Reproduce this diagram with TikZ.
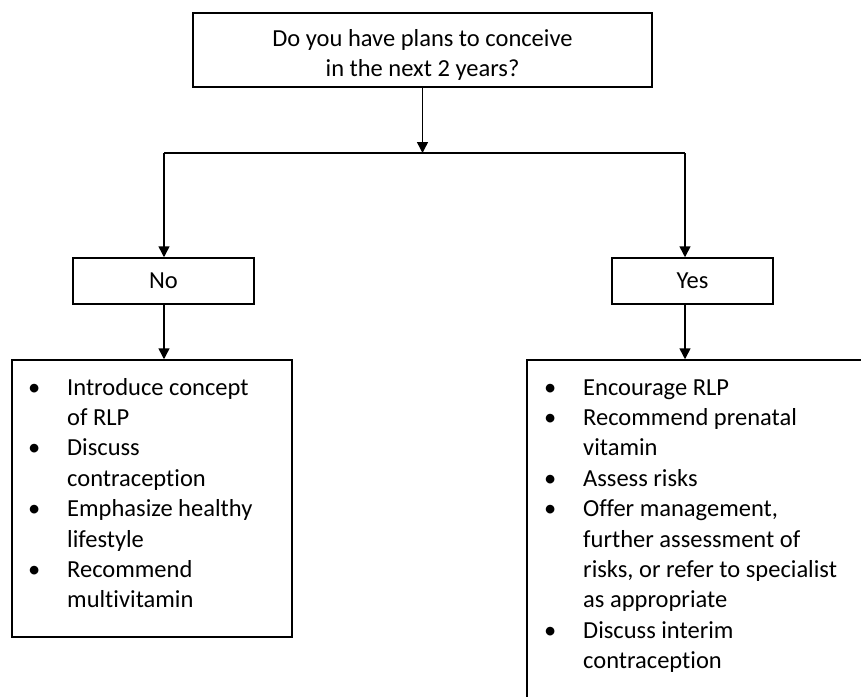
\documentclass[tikz,border=0pt]{standalone}
\usepackage{fontspec}
\setmainfont{Carlito}[Ligatures={NoCommon,NoContextual}]
\usetikzlibrary{arrows.meta}
\begin{document}
\begin{tikzpicture}[x=1pt,y=-1pt,
  box/.style={draw,line width=1.5pt,inner sep=0pt,font=\fontsize{24.5}{30.4}\selectfont},
  arr/.style={line width=1.5pt,-{Triangle[width=11pt,length=11pt]}},
  txt/.style={inner sep=0pt,font=\fontsize{24.5}{30.4}\selectfont}]
\useasboundingbox (0,0) rectangle (861,696);
\clip (0,0) rectangle (861,696);
% question box
\node[box,minimum width=459pt,minimum height=74pt] (q) at (422.5,50) {};
\node[txt,align=center] (qt) at (422.5,55)
  {Do you have plans to conceive\\in the next 2 years?};
\coordinate (hl) at (164,153);
\coordinate (hr) at (685,153);
\coordinate (hm) at (422.5,153);
\draw[arr] (q.south) -- (hm);
\draw[line width=1.5pt] (hl) -- (hr);
% answer boxes
\node[box,minimum width=181pt,minimum height=46pt] (no) at (163.5,281) {No};
\node[box,minimum width=161pt,minimum height=46pt] (yes) at (692.5,281) {Yes};
\draw[arr] (hl) -- (hl |- no.north);
\draw[arr] (hr) -- (hr |- yes.north);
% list boxes
\node[box,minimum width=280pt,minimum height=277pt] (nl) at (152,498.5) {};
\node[box,minimum width=380pt,minimum height=380pt] (yl) at (717,550) {};
\draw[arr] (hl |- no.south) -- (hl |- nl.north);
\draw[arr] (hr |- yes.south) -- (hr |- yl.north);
% list texts
\node[txt,anchor=base west] (nt) at (28,395) {%
\begin{tabular}[t]{@{}l@{}}
\makebox[39pt][l]{•}Introduce concept\\
\hspace*{39pt}of RLP\\
\makebox[39pt][l]{•}Discuss\\
\hspace*{39pt}contraception\\
\makebox[39pt][l]{•}Emphasize healthy\\
\hspace*{39pt}lifestyle\\
\makebox[39pt][l]{•}Recommend\\
\hspace*{39pt}multivitamin
\end{tabular}};
\node[txt,anchor=base west] (yt) at (544,395) {%
\begin{tabular}[t]{@{}l@{}}
\makebox[39pt][l]{•}Encourage RLP\\
\makebox[39pt][l]{•}Recommend prenatal\\
\hspace*{39pt}vitamin\\
\makebox[39pt][l]{•}Assess risks\\
\makebox[39pt][l]{•}Offer management,\\
\hspace*{39pt}further assessment of\\
\hspace*{39pt}risks, or refer to specialist\\
\hspace*{39pt}as appropriate\\
\makebox[39pt][l]{•}Discuss interim\\
\hspace*{39pt}contraception
\end{tabular}};
\end{tikzpicture}
\end{document}
